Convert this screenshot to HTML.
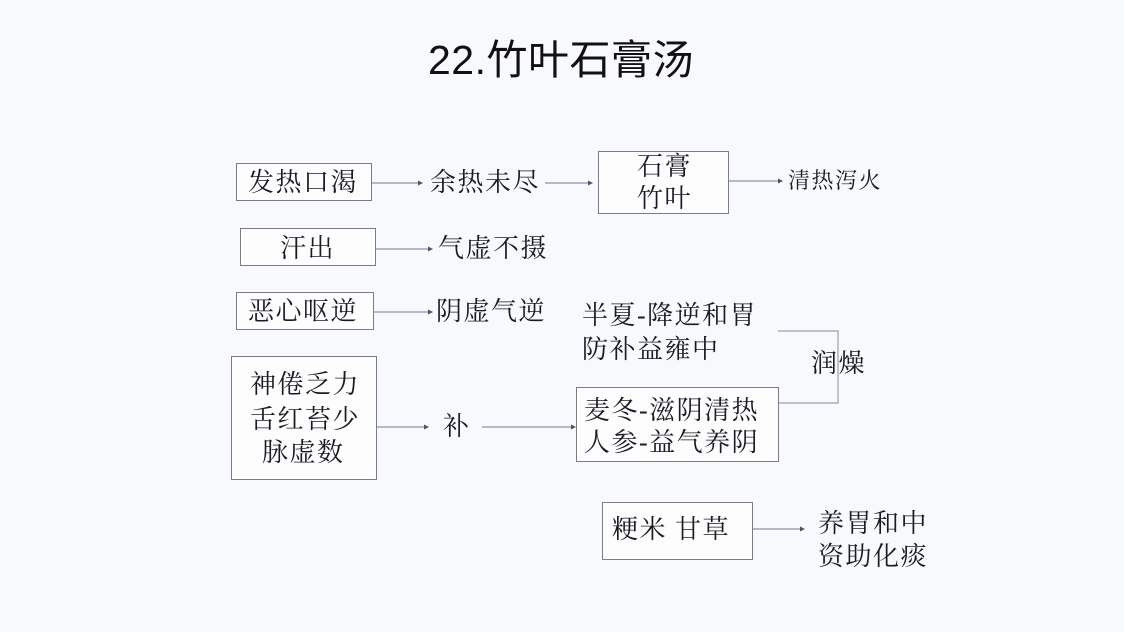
<!DOCTYPE html>
<html><head><meta charset="utf-8"><style>
html,body{margin:0;padding:0}
body{width:1124px;height:632px;background:#f8f9fc;position:relative;overflow:hidden;font-family:"Liberation Serif","Noto Serif CJK SC",serif;color:#1a1a22}
.t{position:absolute;white-space:nowrap;font-size:26px;letter-spacing:1.5px;line-height:1}
.b{position:absolute;border:1.5px solid #7a7d85;background:#fdfdfe;box-sizing:border-box}
svg{position:absolute;left:0;top:0}
</style></head><body>
<div class="t" style="left:428px;top:40px;font-size:41px;letter-spacing:0.5px;font-family:'Liberation Sans','Noto Sans CJK SC',sans-serif;color:#111">22.竹叶石膏汤</div>

<div class="b" style="left:236px;top:163px;width:136px;height:38px"></div>
<div class="b" style="left:598px;top:151px;width:131px;height:63px"></div>
<div class="b" style="left:240px;top:228px;width:136px;height:38px"></div>
<div class="b" style="left:236px;top:292px;width:138px;height:38px"></div>
<div class="b" style="left:231px;top:356px;width:146px;height:124px"></div>
<div class="b" style="left:576px;top:387px;width:203px;height:75px"></div>
<div class="b" style="left:602px;top:502px;width:151px;height:58px"></div>

<svg width="1124" height="632">
<g stroke="#8a96a6" stroke-width="1.2" fill="none">
<line x1="372" y1="183" x2="418" y2="183"/>
<line x1="545" y1="183" x2="588" y2="183"/>
<line x1="729" y1="181" x2="778" y2="181"/>
<line x1="376" y1="249" x2="428" y2="249"/>
<line x1="374" y1="312" x2="428" y2="312"/>
<line x1="377" y1="427" x2="424" y2="427"/>
<line x1="482" y1="427" x2="574" y2="427"/>
<line x1="753" y1="529" x2="800" y2="529"/>
<polyline points="778,331 838,331 838,403 779,403" stroke="#9aa0a8"/>
</g>
<g fill="#4a5566">
<path d="M418,180.5 L423,183 L418,185.5Z"/>
<path d="M588,180.5 L593,183 L588,185.5Z"/>
<path d="M778,178.5 L783,181 L778,183.5Z"/>
<path d="M428,246.5 L433,249 L428,251.5Z"/>
<path d="M428,309.5 L433,312 L428,314.5Z"/>
<path d="M424,424.5 L429,427 L424,429.5Z"/>
<path d="M571,424.5 L576,427 L571,429.5Z"/>
<path d="M800,526.5 L805,529 L800,531.5Z"/>
</g>
</svg>

<div class="t" style="left:248px;top:170px">发热口渴</div>
<div class="t" style="left:430px;top:170px">余热未尽</div>
<div class="t" style="left:637px;top:154px">石膏</div>
<div class="t" style="left:637px;top:186px">竹叶</div>
<div class="t" style="left:788px;top:170px;font-size:22px;letter-spacing:1.5px">清热泻火</div>
<div class="t" style="left:280px;top:236px">汗出</div>
<div class="t" style="left:438px;top:236px">气虚不摄</div>
<div class="t" style="left:248px;top:299px">恶心呕逆</div>
<div class="t" style="left:436px;top:299px">阴虚气逆</div>
<div class="t" style="left:582px;top:303px">半夏-降逆和胃</div>
<div class="t" style="left:582px;top:337px">防补益雍中</div>
<div class="t" style="left:811px;top:351px">润燥</div>
<div class="t" style="left:250px;top:372px">神倦乏力</div>
<div class="t" style="left:250px;top:407px">舌红苔少</div>
<div class="t" style="left:262px;top:440px">脉虚数</div>
<div class="t" style="left:443px;top:414px">补</div>
<div class="t" style="left:584px;top:398px">麦冬-滋阴清热</div>
<div class="t" style="left:584px;top:430px">人参-益气养阴</div>
<div class="t" style="left:612px;top:517px">粳米 甘草</div>
<div class="t" style="left:818px;top:511px">养胃和中</div>
<div class="t" style="left:818px;top:544px">资助化痰</div>
</body></html>
